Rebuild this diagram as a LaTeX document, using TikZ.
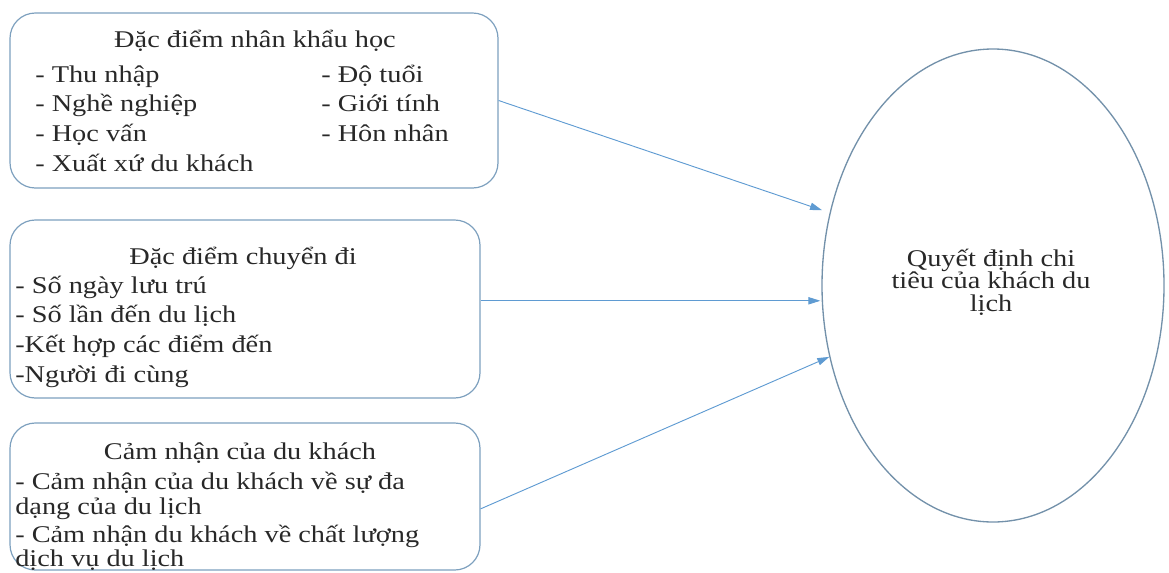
\documentclass[tikz,border=0pt]{standalone}
\usepackage{fontspec}
\setmainfont{Liberation Serif}[FakeStretch=1.18]
\usetikzlibrary{arrows.meta,shapes.geometric}

\definecolor{boxline}{RGB}{125,160,190}
\definecolor{arrowblue}{RGB}{95,155,210}
\definecolor{ovalline}{RGB}{115,145,170}
\definecolor{inkgray}{RGB}{40,40,40}

\begin{document}
\begin{tikzpicture}[x=0.75pt,y=-0.75pt,
  box/.style={draw=boxline, line width=0.9pt, rounded corners=19pt, inner sep=0pt},
  item/.style={anchor=base west, inner sep=0pt, text=inkgray, font=\fontsize{18pt}{20pt}\selectfont},
  head/.style={item, anchor=base},
  link/.style={draw=arrowblue, line width=0.7pt, -{Triangle[length=9pt,width=5.5pt]}}]

\useasboundingbox (0,0) rectangle (1169,572);

% the three groups of factors
\node (b1) [box, minimum width=366pt, minimum height=131.25pt] at (254,100.5) {};
\node (b2) [box, minimum width=352.5pt, minimum height=133.5pt] at (245,309) {};
\node (b3) [box, minimum width=352.5pt, minimum height=110.25pt] at (245,496.5) {};

% the decision
\node (q) [ellipse, draw=ovalline, line width=1pt, minimum width=256.5pt, minimum height=354.75pt, inner sep=0pt] at (993,285.5) {};
\node (qt) [align=center, inner sep=0pt, text=inkgray, font=\fontsize{18pt}{17pt}\selectfont] at (991,282) {Quyết định chi\\tiêu của khách du\\lịch};

% first box
\node (h1) [head] at (255,47) {Đặc điểm nhân khẩu học};
\node (a1) [item] at (35,82) {- Thu nhập};
\node (a2) [item] at (35,111) {- Nghề nghiệp};
\node (a3) [item] at (35,141) {- Học vấn};
\node (a4) [item] at (35,171) {- Xuất xứ du khách};
\node (c1) [item] at (321,82) {- Độ tuổi};
\node (c2) [item] at (321,111) {- Giới tính};
\node (c3) [item] at (321,141) {- Hôn nhân};

% second box
\node (h2) [head] at (243,264) {Đặc điểm chuyển đi};
\node (d1) [item] at (15,293) {- Số ngày lưu trú};
\node (d2) [item] at (15,322) {- Số lần đến du lịch};
\node (d3) [item] at (15,352) {-Kết hợp các điểm đến};
\node (d4) [item] at (15,382) {-Người đi cùng};

% third box
\node (h3) [head] at (240,459) {Cảm nhận của du khách};
\node (e1) [item] at (15,489) {- Cảm nhận của du khách về sự đa};
\node (e2) [item] at (15,514) {dạng của du lịch};
\node (e3) [item] at (15,542) {- Cảm nhận du khách về chất lượng};
\node (e4) [item] at (15,566) {dịch vụ du lịch};

\draw [link, shorten >=6pt] (b1.east) -- (q.156);
\draw [link, shorten >=0.75pt] (b2.2) -- (b2.2 -| q.west);
\draw [link] (b3.-3) -- (q);

\end{tikzpicture}
\end{document}
